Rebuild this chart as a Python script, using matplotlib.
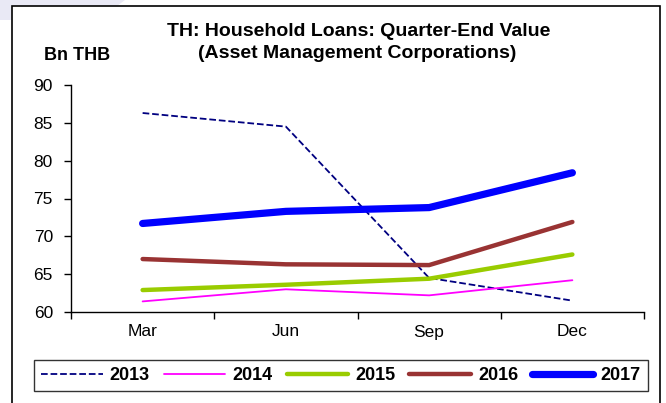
import matplotlib.pyplot as plt
from matplotlib.patches import Rectangle, Polygon

plt.rcParams['font.family'] = ['Liberation Sans', 'DejaVu Sans']

# 季度与各年份数据 (Bn THB)
quarters = ['Mar', 'Jun', 'Sep', 'Dec']
years = ['2013', '2014', '2015', '2016', '2017']
v2013 = [86.3, 84.5, 64.5, 61.5]
v2014 = [61.4, 63.0, 62.2, 64.2]
v2015 = [62.9, 63.6, 64.4, 67.6]
v2016 = [67.0, 66.3, 66.2, 71.9]
v2017 = [71.7, 73.3, 73.8, 78.4]

series = [v2013, v2014, v2015, v2016, v2017]
colors = ['#000080', '#FF00FF', '#99CC00', '#993333', '#0000FF']
widths = [1.3, 1.3, 3.2, 3.2, 5.2]
styles = ['--', '-', '-', '-', '-']

W, H = 666, 403
fig = plt.figure(figsize=(W / 100, H / 100), dpi=100)

# 左上角浅色底纹
fig.add_artist(Polygon([(0, 1), (125 / W, 1), (117 / W, 1 - 6 / H),
                        (12 / W, 1 - 6 / H), (12 / W, 1 - 20 / H), (0, 1 - 20 / H)],
                       closed=True, transform=fig.transFigure,
                       facecolor='#E9E9F5', edgecolor='none', zorder=-5))

ax = fig.add_axes([71 / W, 1 - 312 / H, 573 / W, 227 / H])

x = range(len(quarters))
for vals, yr, c, lw, ls in zip(series, years, colors, widths, styles):
    ax.plot(x, vals, color=c, lw=lw, ls=ls, label=yr,
            solid_capstyle='round', dash_capstyle='butt')

# 坐标轴
ax.set_xlim(-0.5, 3.5)
ax.set_ylim(60, 90)
ax.set_yticks(range(60, 91, 5))
ax.set_xticks(list(x))
ax.set_xticklabels(quarters)
ax.set_xticks([-0.5, 0.5, 1.5, 2.5, 3.5], minor=True)
ax.tick_params(axis='x', which='major', length=0, pad=9, labelsize=12.5)
ax.tick_params(axis='x', which='minor', length=5, width=1, direction='out')
ax.tick_params(axis='y', length=5, width=1, pad=8, labelsize=12.5)
ax.spines['top'].set_visible(False)
ax.spines['right'].set_visible(False)
for s in ['left', 'bottom']:
    ax.spines[s].set_linewidth(1)

# 标题与单位
fig.text(359 / W, 1 - 31 / H, 'TH: Household Loans: Quarter-End Value',
         ha='center', va='center', fontsize=14, fontweight='bold')
fig.text(357 / W, 1 - 54 / H, '(Asset Management Corporations)',
         ha='center', va='center', fontsize=14, fontweight='bold')
fig.text(77 / W, 1 - 56 / H, 'Bn THB', ha='center', va='center',
         fontsize=13, fontweight='bold')

# 图例
leg = fig.legend(loc='center', ncol=5, mode='expand',
                 bbox_to_anchor=(34 / W, 1 - 393 / H, 614 / W, 35 / H),
                 frameon=True, fancybox=False, edgecolor='black',
                 prop={'weight': 'bold', 'size': 13},
                 handlelength=3.4, handletextpad=0.4, borderaxespad=0,
                 borderpad=0.4, columnspacing=0.5)
leg.get_frame().set_linewidth(1)

# 外框
fig.add_artist(Rectangle((12 / W, -0.05), 648 / W, 1.05 - 6 / H,
                         transform=fig.transFigure, fill=False,
                         lw=1.2, edgecolor='black', clip_on=False))

fig.savefig('out.png', dpi=100)
